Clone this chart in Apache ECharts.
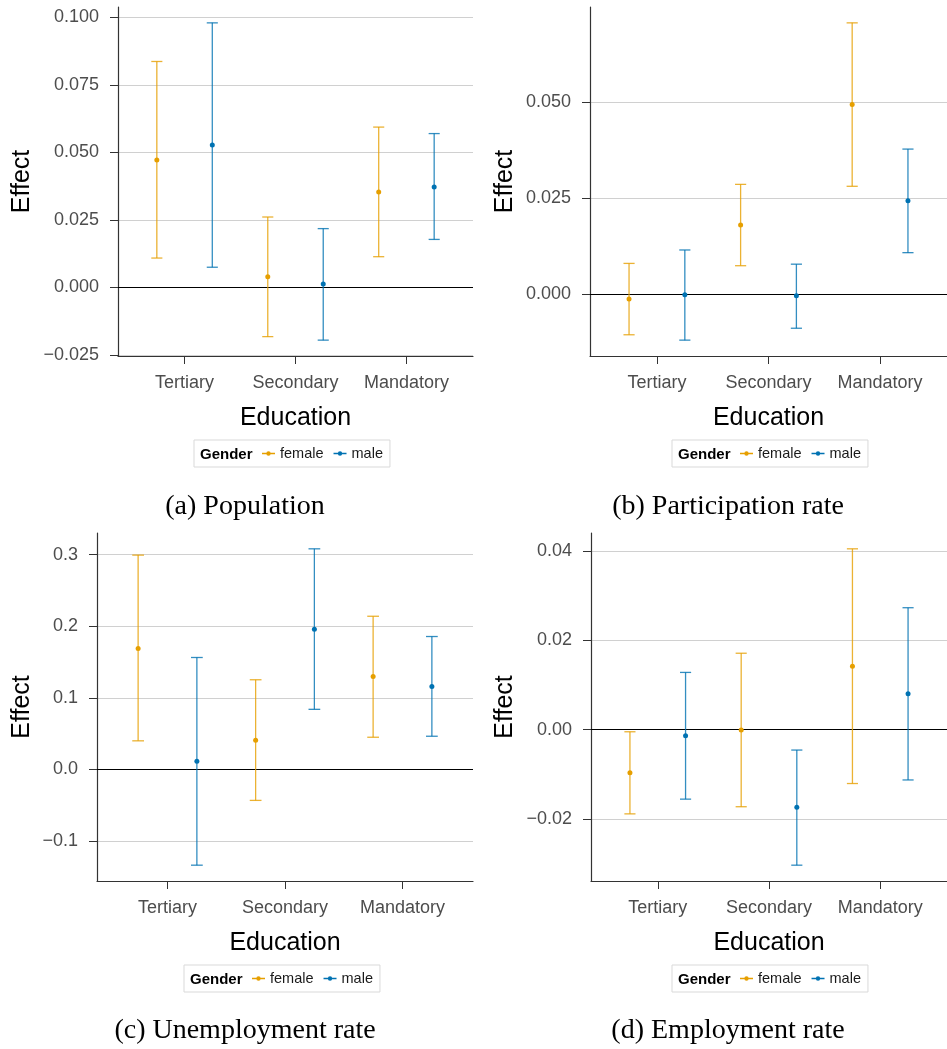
<!DOCTYPE html>
<html>
<head>
<meta charset="utf-8">
<script src="https://cdn.jsdelivr.net/npm/echarts@6/dist/echarts.min.js"></script>
<style>
  html, body { margin: 0; padding: 0; background: #fff; }
  #chart { width: 947px; height: 1049px; }
</style>
</head>
<body>
<div id="chart"></div>
<script>
// Effect estimates by education and gender, rows are [estimate, lower, upper]
const categories = ['Tertiary', 'Secondary', 'Mandatory'];

const popFemale = [[0.0472, 0.0109, 0.0837], [0.0040, -0.0182, 0.0261], [0.0354, 0.0114, 0.0594]];
const popMale   = [[0.0528, 0.0075, 0.0980], [0.0013, -0.0195, 0.0218], [0.0372, 0.0178, 0.0570]];

const partFemale = [[-0.0013, -0.0106, 0.0080], [0.0180, 0.0074, 0.0286], [0.0494, 0.0281, 0.0707]];
const partMale   = [[-0.0002, -0.0120, 0.0115], [-0.0004, -0.0089, 0.0078], [0.0243, 0.0108, 0.0378]];

const unempFemale = [[0.169, 0.040, 0.2994], [0.0408, -0.0432, 0.1253], [0.130, 0.045, 0.214]];
const unempMale   = [[0.0116, -0.1337, 0.1564], [0.1958, 0.084, 0.3082], [0.116, 0.0464, 0.1857]];

const empFemale = [[-0.0097, -0.0189, -0.0005], [-0.0001, -0.0173, 0.0171], [0.0142, -0.0121, 0.0405]];
const empMale   = [[-0.0014, -0.0156, 0.0128], [-0.0174, -0.0304, -0.0046], [0.0080, -0.0113, 0.0273]];

const popTicks   = [-0.025, 0, 0.025, 0.05, 0.075, 0.1];
const partTicks  = [0, 0.025, 0.05];
const unempTicks = [-0.1, 0, 0.1, 0.2, 0.3];
const empTicks   = [-0.02, 0, 0.02, 0.04];

const captions = ['(a) Population', '(b) Participation rate', '(c) Unemployment rate', '(d) Employment rate'];

const FEMALE = '#E69F00', MALE = '#0072B2';
const SANS = '"Liberation Sans", Arial, Helvetica, sans-serif';
const SERIF = '"Liberation Serif", "Times New Roman", serif';

// layout of the four panels (pixels)
const panels = [
  { f: popFemale,   m: popMale,   ticks: popTicks,   dec: 3, grid: { left: 118, top: 7,   width: 355, height: 349 }, nameGap: 83, legend: [194, 440], cap: [245, 506] },
  { f: partFemale,  m: partMale,  ticks: partTicks,  dec: 3, grid: { left: 590, top: 7,   width: 366, height: 349 }, nameGap: 72, legend: [672, 440], cap: [728, 506] },
  { f: unempFemale, m: unempMale, ticks: unempTicks, dec: 1, grid: { left: 97,  top: 533, width: 376, height: 348 }, nameGap: 62, legend: [184, 965], cap: [245, 1030] },
  { f: empFemale,   m: empMale,   ticks: empTicks,   dec: 2, grid: { left: 591, top: 533, width: 365, height: 348 }, nameGap: 73, legend: [672, 965], cap: [728, 1030] }
];

const fmt = dec => v => v.toFixed(dec).replace('-', '\u2212');

function errRender(offset) {
  return function (params, api) {
    const x = api.value(0) + offset;
    const pEst = api.coord([x, api.value(1)]);
    const pLo = api.coord([x, api.value(2)]);
    const pHi = api.coord([x, api.value(3)]);
    const half = api.size([0.05, 0])[0];
    const color = api.visual('color');
    const ls = { stroke: color, lineWidth: 1.3, opacity: 0.8 };
    return { type: 'group', children: [
      { type: 'line', shape: { x1: pLo[0], y1: pLo[1], x2: pHi[0], y2: pHi[1] }, style: ls },
      { type: 'line', shape: { x1: pLo[0] - half, y1: pLo[1], x2: pLo[0] + half, y2: pLo[1] }, style: ls },
      { type: 'line', shape: { x1: pHi[0] - half, y1: pHi[1], x2: pHi[0] + half, y2: pHi[1] }, style: ls },
      { type: 'circle', shape: { cx: pEst[0], cy: pEst[1], r: 2.5 }, style: { fill: color } }
    ] };
  };
}

const rows = arr => arr.map((r, i) => [i + 1, r[0], r[1], r[2]]);
const ICON = 'path://M0,-0.7L13,-0.7L13,0.7L0,0.7Z M6.5,-2.2A2.2,2.2 0 1 1 6.5,2.2A2.2,2.2 0 1 1 6.5,-2.2Z';

const grid = [], xAxis = [], yAxis = [], series = [], legend = [], graphic = [];
panels.forEach((p, i) => {
  grid.push(p.grid);
  const all = p.f.concat(p.m);
  const lo = Math.min(...all.map(r => r[1])), hi = Math.max(...all.map(r => r[2]));
  const pad = (hi - lo) * 0.05;
  xAxis.push({
    type: 'value', gridIndex: i, min: 0.4, max: 3.6,
    name: 'Education', nameLocation: 'middle', nameGap: 50,
    nameTextStyle: { fontSize: 25, color: '#000', fontFamily: SANS },
    axisLine: { show: true, onZero: false, lineStyle: { color: '#333', width: 1.2 } },
    axisTick: { show: true, length: 8, customValues: [1, 2, 3], lineStyle: { color: '#333' } },
    axisLabel: { customValues: [1, 2, 3], formatter: v => categories[Math.round(v) - 1], fontSize: 18, color: '#4d4d4d', margin: 18, fontFamily: SANS },
    splitLine: { show: false }
  });
  yAxis.push({
    type: 'value', gridIndex: i, min: lo - pad, max: hi + pad,
    name: 'Effect', nameLocation: 'middle', nameGap: p.nameGap,
    nameTextStyle: { fontSize: 25, color: '#000', fontFamily: SANS },
    axisLine: { show: true, onZero: false, lineStyle: { color: '#333', width: 1.2 } },
    axisTick: { show: true, length: 8, customValues: p.ticks, lineStyle: { color: '#333' } },
    axisLabel: { customValues: p.ticks, formatter: fmt(p.dec), fontSize: 18, color: '#4d4d4d', margin: 19, fontFamily: SANS },
    splitLine: { show: true, lineStyle: { color: '#d0d0d0', width: 1 } }
  });
  series.push({
    name: 'female', type: 'custom', xAxisIndex: i, yAxisIndex: i,
    itemStyle: { color: FEMALE }, renderItem: errRender(-0.25), data: rows(p.f),
    encode: { x: 0, y: [1, 2, 3] }, z: 3,
    markLine: { silent: true, symbol: 'none', label: { show: false },
      lineStyle: { color: '#000', width: 1.1, type: 'solid' }, data: [{ yAxis: 0 }], z: 2 }
  });
  series.push({
    name: 'male', type: 'custom', xAxisIndex: i, yAxisIndex: i,
    itemStyle: { color: MALE }, renderItem: errRender(0.25), data: rows(p.m),
    encode: { x: 0, y: [1, 2, 3] }, z: 3
  });
  legend.push({
    data: ['female', 'male'], left: p.legend[0], top: p.legend[1], orient: 'horizontal',
    padding: [6, 7, 6, 68], borderColor: '#d9d9d9', borderWidth: 1, borderRadius: 0,
    itemWidth: 13, itemHeight: 4.4, itemGap: 10, icon: ICON, selectedMode: false,
    textStyle: { fontSize: 14.5, color: '#1a1a1a', fontFamily: SANS }
  });
  graphic.push({
    type: 'text', left: p.legend[0] + 6, top: p.legend[1] + 7,
    style: { text: 'Gender', font: 'bold 15px ' + SANS, fill: '#000' }
  });
  graphic.push({
    type: 'text', x: p.cap[0], y: p.cap[1] + 1,
    style: { text: captions[i], font: '28px ' + SERIF, fill: '#000', align: 'center', verticalAlign: 'middle' }
  });
});

const chart = echarts.init(document.getElementById('chart'), null, { renderer: 'canvas' });
chart.setOption({ backgroundColor: '#fff', animation: false, grid, xAxis, yAxis, series, legend, graphic });
</script>
</body>
</html>
